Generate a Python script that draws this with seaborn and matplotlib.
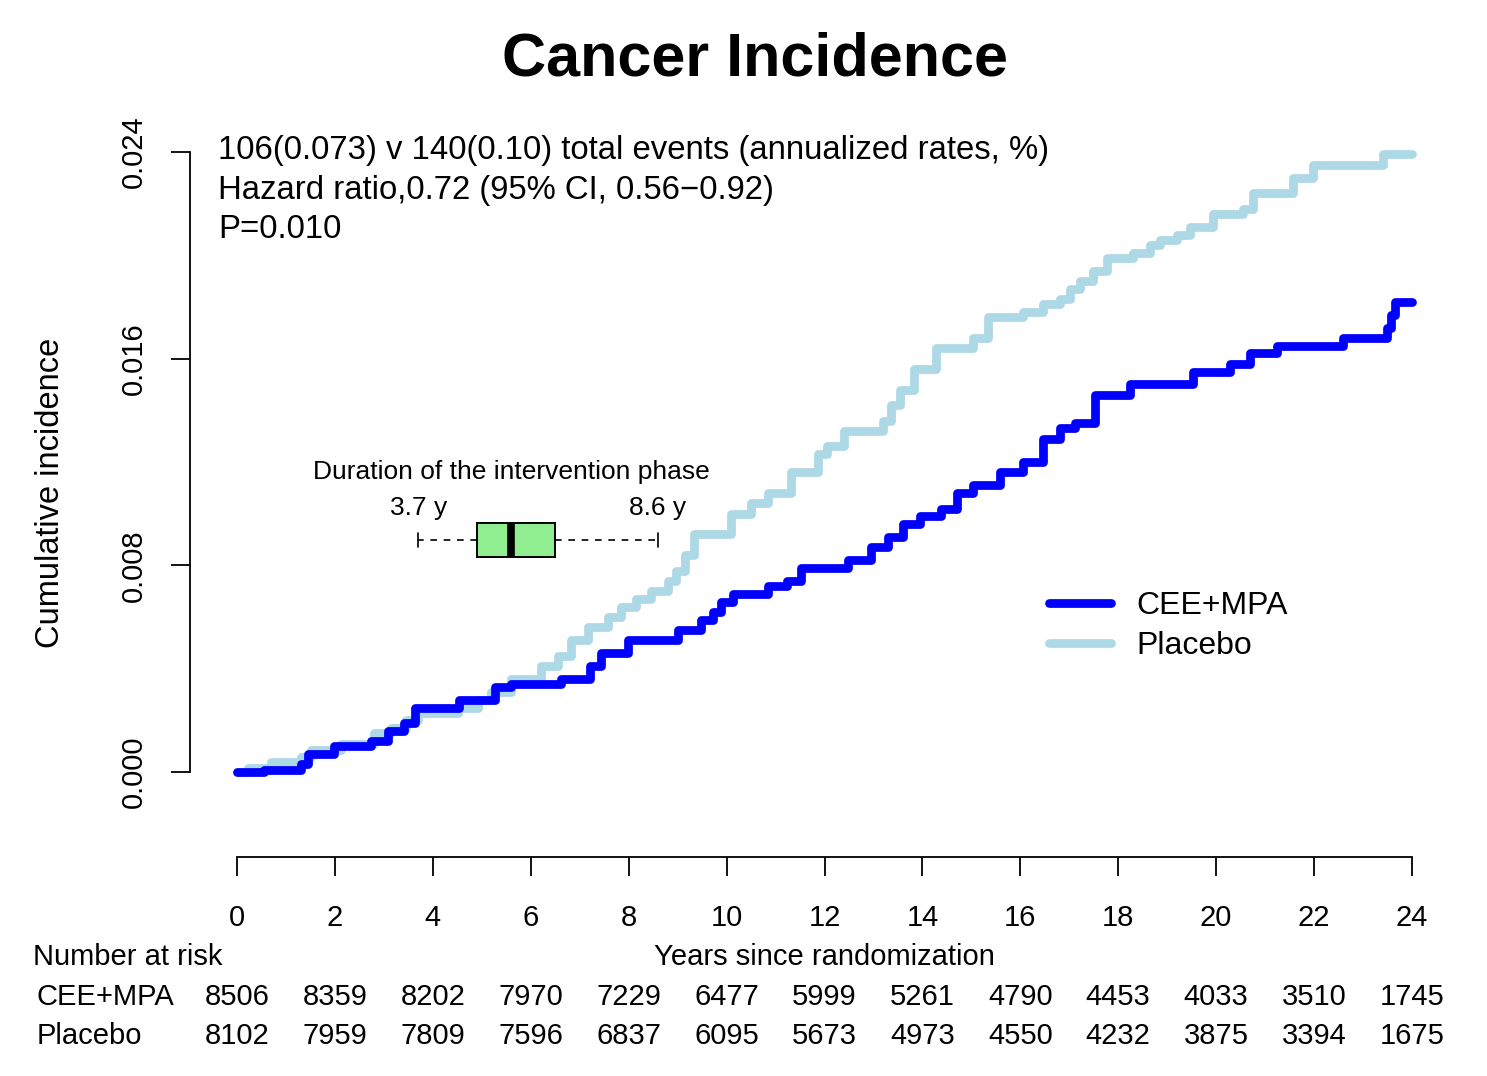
import numpy as np
import pandas as pd
import matplotlib
matplotlib.use("Agg")
import matplotlib.pyplot as plt
import matplotlib.transforms as mtransforms
import seaborn as sns

# cumulative incidence curves (step changes)
cee_years = [0.0, 0.55, 1.3, 1.45, 1.98, 2.73, 3.08, 3.41, 3.63, 4.53, 5.27, 5.6, 6.61,
             7.22, 7.43, 7.98, 9.0, 9.47, 9.73, 9.88, 10.14, 10.84, 11.24, 11.51, 12.47,
             12.94, 13.29, 13.61, 13.96, 14.37, 14.71, 15.04, 15.59, 16.06, 16.47, 16.82,
             17.12, 17.53, 18.24, 19.53, 20.29, 20.69, 21.24, 22.59, 23.49, 23.57, 23.65, 24.0]
cee_inc = [0.0, 0.0001, 0.0003, 0.0007, 0.0010, 0.0012, 0.0016, 0.0019, 0.0025, 0.0028,
           0.0033, 0.0034, 0.0036, 0.0041, 0.0046, 0.0051, 0.0055, 0.0059, 0.0062, 0.0066,
           0.0069, 0.0072, 0.0074, 0.0079, 0.0082, 0.0087, 0.0091, 0.0096, 0.0099, 0.0102,
           0.0108, 0.0111, 0.0116, 0.0120, 0.0129, 0.0133, 0.0135, 0.0146, 0.0150, 0.0155,
           0.0158, 0.0162, 0.0165, 0.0168, 0.0172, 0.0177, 0.0182, 0.0182]

pla_years = [0.0, 0.22, 0.69, 1.31, 1.51, 2.12, 2.8, 3.14, 3.45, 3.69, 4.51, 4.92, 5.18,
             5.59, 6.2, 6.55, 6.82, 7.16, 7.57, 7.84, 8.14, 8.45, 8.8, 8.96, 9.16, 9.33,
             10.08, 10.49, 10.84, 11.31, 11.86, 12.06, 12.39, 13.2, 13.35, 13.55, 13.82,
             14.27, 15.04, 15.33, 16.06, 16.47, 16.82, 17.02, 17.22, 17.49, 17.78, 18.31,
             18.65, 18.86, 19.2, 19.47, 19.94, 20.55, 20.76, 21.57, 21.98, 23.41, 24.0]
pla_inc = [0.0, 0.00015, 0.0004, 0.0006, 0.00085, 0.0011, 0.0015, 0.0017, 0.0020, 0.0023,
           0.0025, 0.0028, 0.0031, 0.0036, 0.0041, 0.0045, 0.0051, 0.0056, 0.0060, 0.0064,
           0.0067, 0.0070, 0.0074, 0.0078, 0.0084, 0.0092, 0.0100, 0.0104, 0.0108, 0.0116,
           0.0123, 0.0126, 0.0132, 0.0136, 0.0142, 0.0148, 0.0156, 0.0164, 0.0168, 0.0176,
           0.0178, 0.0181, 0.0183, 0.0187, 0.0190, 0.0194, 0.0199, 0.0201, 0.0204, 0.0206,
           0.0208, 0.0211, 0.0216, 0.0218, 0.0224, 0.0230, 0.0235, 0.0239, 0.0239]

groups = ["CEE+MPA", "Placebo"]
colors = ["#0000FF", "#ADD8E6"]

# number at risk table
risk_years = [0, 2, 4, 6, 8, 10, 12, 14, 16, 18, 20, 22, 24]
risk_cee = [8506, 8359, 8202, 7970, 7229, 6477, 5999, 5261, 4790, 4453, 4033, 3510, 1745]
risk_pla = [8102, 7959, 7809, 7596, 6837, 6095, 5673, 4973, 4550, 4232, 3875, 3394, 1675]

# duration of the intervention phase (years)
dur_lo, dur_q1, dur_med, dur_q3, dur_hi = 3.7, 4.9, 5.6, 6.5, 8.6

annot_lines = ["106(0.073) v 140(0.10) total events (annualized rates, %)",
               "Hazard ratio,0.72 (95% CI, 0.56\u22120.92)",
               "P=0.010"]

sns.set_theme(style="white")
plt.rcParams["font.family"] = ["Liberation Sans", "DejaVu Sans"]
plt.rcParams["text.color"] = "black"
plt.rcParams["axes.labelcolor"] = "black"

df = pd.concat([
    pd.DataFrame({"years": cee_years, "inc": cee_inc, "group": groups[0]}),
    pd.DataFrame({"years": pla_years, "inc": pla_inc, "group": groups[1]}),
])

fig = plt.figure(figsize=(14.87, 10.76), dpi=100)
ax = fig.add_axes([190 / 1487, 1 - 797 / 1076, 1269 / 1487, 670 / 1076])

# placebo first so the blue line sits on top
for g, c in zip(groups[::-1], colors[::-1]):
    sns.lineplot(data=df[df.group == g], x="years", y="inc", color=c, lw=6.3,
                 drawstyle="steps-post", estimator=None, sort=False, ax=ax,
                 label=g, solid_capstyle="round")

ax.set_xlim(-0.96, 24.96)
ax.set_ylim(-0.00096, 0.02496)

for s in ["top", "right"]:
    ax.spines[s].set_visible(False)
ax.spines["left"].set_bounds(0, 0.024)
ax.spines["bottom"].set_bounds(0, 24)
ax.spines["bottom"].set_position(("outward", 43))
for s in ["left", "bottom"]:
    ax.spines[s].set_color("black")
    ax.spines[s].set_linewidth(1.3)

ax.set_yticks([0, 0.008, 0.016, 0.024])
ax.set_yticklabels(["0.000", "0.008", "0.016", "0.024"], rotation=90, va="center")
ax.set_xticks(risk_years)
ax.tick_params(axis="both", direction="out", length=14, width=1.3, color="black",
               labelsize=21, labelcolor="black", left=True, bottom=True)
ax.tick_params(axis="y", pad=16)
ax.tick_params(axis="x", pad=20)
ax.set_xlabel("")
ax.set_ylabel("Cumulative incidence", fontsize=23.5)
ax.yaxis.set_label_coords(-0.098, 0.454)

# intervention duration box
stats = [dict(whislo=dur_lo, q1=dur_q1, med=dur_med, q3=dur_q3, whishi=dur_hi)]
ax.bxp(stats, positions=[0.00898], widths=0.0013, vert=False, showfliers=False,
       patch_artist=True, capwidths=0.00052,
       boxprops=dict(facecolor="#90EE90", edgecolor="black", linewidth=1.4),
       medianprops=dict(color="black", linewidth=5.5),
       whiskerprops=dict(color="black", linestyle=(0, (4, 4)), linewidth=1.2),
       capprops=dict(color="black", linewidth=1.2), manage_ticks=False)
ax.text(dur_med, 0.01161, "Duration of the intervention phase", ha="center",
        va="center", fontsize=19)
ax.text(dur_lo, 0.01022, f"{dur_lo} y", ha="center", va="center", fontsize=19)
ax.text(dur_hi, 0.01022, f"{dur_hi} y", ha="center", va="center", fontsize=19)

# annotations
for i, line in enumerate(annot_lines):
    fig.text(218 / 1487, 1 - (150 + 40 * i) / 1076, line, ha="left", va="center",
             fontsize=23.7)

fig.text(755 / 1487, 1 - 60 / 1076, "Cancer Incidence", ha="center", va="center",
         fontsize=44, fontweight="bold")

# legend
handles, labels = ax.get_legend_handles_labels()
order = [labels.index(g) for g in groups]
ax.legend([handles[i] for i in order], [labels[i] for i in order],
          loc="center left", bbox_to_anchor=(1020 / 1487, 1 - 626 / 1076),
          bbox_transform=fig.transFigure, frameon=False, fontsize=23,
          handlelength=1.95, handletextpad=0.8, labelspacing=0.3)

# number at risk
tr = mtransforms.blended_transform_factory(ax.transData, fig.transFigure)
fig.text(33 / 1487, 1 - 957 / 1076, "Number at risk", ha="left", va="center", fontsize=21)
ax.text(12, 1 - 957 / 1076, "Years since randomization", ha="center", va="center",
        fontsize=21, transform=tr)
for row, (name, vals) in enumerate(zip(groups, [risk_cee, risk_pla])):
    yy = 1 - (997 + 39 * row) / 1076
    fig.text(37 / 1487, yy, name, ha="left", va="center", fontsize=21)
    for xv, n in zip(risk_years, vals):
        ax.text(xv, yy, str(n), ha="center", va="center", fontsize=21, transform=tr)

fig.savefig("out.png", dpi=100)
